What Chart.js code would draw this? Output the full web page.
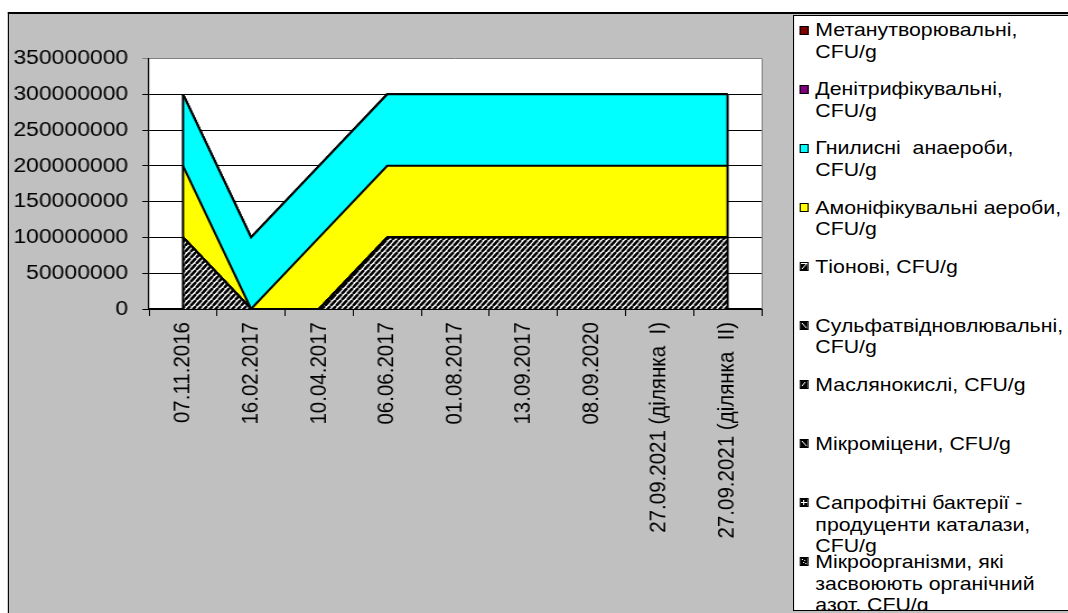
<!DOCTYPE html>
<html>
<head>
<meta charset="utf-8">
<script src="https://cdn.jsdelivr.net/npm/chart.js@4.4.1/dist/chart.umd.min.js"></script>
<style>
  html, body { margin: 0; padding: 0; background: #fff; overflow: hidden; width: 1068px; height: 613px; }
  #stage { position: absolute; left: 0; top: 0; width: 954px; height: 613px; transform: scaleX(1.12); transform-origin: 0 0; }
  #frame { position: absolute; left: 7px; top: 12px; right: -40px; bottom: -40px; background: #c0c0c0;
           border-top: 2px solid #000; border-left: 1.8px solid #000; }
  #chart { position: absolute; left: 0; top: 0; }
  #legend { position: absolute; left: 708px; top: 15px; width: 300px; height: 596px; box-sizing: border-box;
            background: #fff; border: 1px solid #000; overflow: hidden;
            font-family: "Liberation Sans", Arial, sans-serif; font-size: 19px; line-height: 21.5px; color: #000; }
  .item { position: absolute; left: 19px; white-space: pre; }
  .icon { position: absolute; left: -14px; top: 6.25px; width: 6px; height: 7px; border: 1px solid #000; }
</style>
</head>
<body>
<div id="stage">
  <div id="frame"></div>
  <canvas id="chart" width="954" height="613"></canvas>
  <div id="legend"></div>
</div>
<script>
// Sampling dates (category axis)
const categories = [
  '07.11.2016', '16.02.2017', '10.04.2017', '06.06.2017', '01.08.2017',
  '13.09.2017', '08.09.2020', '27.09.2021 (ділянка  І)', '27.09.2021 (ділянка  ІІ)'
];

// Y-axis tick values
const yTicks = [0, 50000000, 100000000, 150000000, 200000000, 250000000, 300000000, 350000000];

// Microbial groups, CFU/g (stacking order: bottom to top)
const organicNitrogen = [100000000, 0, 0, 100000000, 100000000, 100000000, 100000000, 100000000, 100000000];
const catalaseSaprophytes = [0, 0, 0, 0, 0, 0, 0, 0, 0];
const micromycetes = [0, 0, 0, 0, 0, 0, 0, 0, 0];
const butyric = [0, 0, 0, 0, 0, 0, 0, 0, 0];
const sulfateReducing = [0, 0, 0, 0, 0, 0, 0, 0, 0];
const thionic = [0, 0, 0, 0, 0, 0, 0, 0, 0];
const ammonifyingAerobes = [100000000, 0, 100000000, 100000000, 100000000, 100000000, 100000000, 100000000, 100000000];
const putrefactiveAnaerobes = [100000000, 100000000, 100000000, 100000000, 100000000, 100000000, 100000000, 100000000, 100000000];
const denitrifying = [0, 0, 0, 0, 0, 0, 0, 0, 0];
const methanogenic = [0, 0, 0, 0, 0, 0, 0, 0, 0];

const seriesNames = [
  'Мікроорганізми, які\nзасвоюють органічний\nазот, CFU/g',
  'Сапрофітні бактерії -\nпродуценти каталази,\nCFU/g',
  'Мікроміцени, CFU/g',
  'Маслянокислі, CFU/g',
  'Сульфатвідновлювальні,\nCFU/g',
  'Тіонові, CFU/g',
  'Амоніфікувальні аероби,\nCFU/g',
  'Гнилисні  анаероби,\nCFU/g',
  'Денітрифікувальні,\nCFU/g',
  'Метанутворювальні,\nCFU/g'
];
const seriesValues = [
  organicNitrogen, catalaseSaprophytes, micromycetes, butyric, sulfateReducing,
  thionic, ammonifyingAerobes, putrefactiveAnaerobes, denitrifying, methanogenic
];

const FONT = '"Liberation Sans", Arial, sans-serif';

// Black-and-white hatch tiles
function hatchTile(kind) {
  const w = 5, h = 6;
  const c = document.createElement('canvas');
  c.width = w; c.height = h;
  const g = c.getContext('2d');
  g.fillStyle = '#fff';
  g.fillRect(0, 0, w, h);
  g.strokeStyle = '#000';
  g.fillStyle = '#000';
  if (kind === 'up' || kind === 'down' || kind === 'upThick') {
    g.lineWidth = kind === 'upThick' ? 3 : 2.5;
    for (let k = -1; k <= 1; k++) {
      g.beginPath();
      if (kind === 'down') { g.moveTo(k * w, 0); g.lineTo(k * w + w, h); }
      else { g.moveTo(k * w, h); g.lineTo(k * w + w, 0); }
      g.stroke();
    }
  } else if (kind === 'grid') {
    g.fillRect(0, 0, w, 2); g.fillRect(0, 0, 2, h);
    g.fillRect(3, 3, 1, 2);
  } else if (kind === 'dots') {
    g.fillRect(0, 0, w, h);
    g.fillStyle = '#fff';
    g.fillRect(1, 1, 1, 1); g.fillRect(3, 4, 1, 1);
  }
  return c;
}

// Darker tiles for the small legend keys
function keyTile(kind) {
  const c = document.createElement('canvas');
  c.width = 6; c.height = 7;
  const g = c.getContext('2d');
  g.fillStyle = '#000';
  g.fillRect(0, 0, 6, 7);
  g.strokeStyle = '#fff';
  g.fillStyle = '#fff';
  g.lineWidth = 1;
  g.beginPath();
  if (kind === 'up') { g.moveTo(1, 6); g.lineTo(5, 1); g.stroke(); g.fillRect(0, 0, 6, 1); }
  else if (kind === 'down') { g.moveTo(1, 1); g.lineTo(5, 6); g.stroke(); }
  else if (kind === 'upThick') { g.moveTo(1, 5); g.lineTo(4, 1); g.stroke(); }
  else if (kind === 'grid') { g.fillRect(2, 1, 1, 5); g.fillRect(0, 3, 6, 1); }
  else if (kind === 'dots') { g.fillRect(1, 1, 1, 1); g.fillRect(3, 2, 1, 1); g.fillRect(2, 4, 1, 1); g.fillRect(4, 5, 1, 1); }
  return c;
}

const tiles = {
  up: hatchTile('up'), down: hatchTile('down'), upThick: hatchTile('upThick'),
  grid: hatchTile('grid'), dots: hatchTile('dots')
};

const ctx = document.getElementById('chart').getContext('2d');
const seriesFills = [
  ctx.createPattern(tiles.up, 'repeat'),
  ctx.createPattern(tiles.grid, 'repeat'),
  ctx.createPattern(tiles.down, 'repeat'),
  ctx.createPattern(tiles.upThick, 'repeat'),
  ctx.createPattern(tiles.down, 'repeat'),
  ctx.createPattern(tiles.up, 'repeat'),
  '#ffff00', '#00ffff', '#800080', '#800000'
];
const iconFills = [
  keyTile('dots'), keyTile('grid'), keyTile('down'), keyTile('upThick'), keyTile('down'), keyTile('up'),
  '#ffff00', '#00ffff', '#800080', '#800000'
];

const datasets = seriesValues.map((vals, i) => ({
  label: seriesNames[i],
  data: vals,
  backgroundColor: seriesFills[i],
  borderColor: '#000',
  borderWidth: 2,
  fill: i === 0 ? 'origin' : '-1',
  pointRadius: 0,
  tension: 0
}));

// Plot-area background and frame lines
const plotFrame = {
  id: 'plotFrame',
  beforeDraw(chart) {
    const { ctx, chartArea: a } = chart;
    ctx.save();
    ctx.fillStyle = '#fff';
    ctx.fillRect(a.left, a.top, a.right - a.left, a.bottom - a.top);
    ctx.restore();
  },
  afterDraw(chart) {
    const { ctx, chartArea: a } = chart;
    ctx.save();
    ctx.strokeStyle = '#808080';
    ctx.lineWidth = 1;
    ctx.beginPath();
    ctx.moveTo(a.right + 0.5, a.top);
    ctx.lineTo(a.right + 0.5, a.bottom);
    ctx.stroke();
    ctx.restore();
  }
};

// Closing vertical edges of the stacked areas at the first and last dates
const areaEdges = {
  id: 'areaEdges',
  afterDatasetsDraw(chart) {
    const { ctx, scales: { x, y } } = chart;
    const ds = chart.data.datasets;
    const n = chart.data.labels.length;
    ctx.save();
    ctx.strokeStyle = '#000';
    ctx.lineWidth = 2;
    [0, n - 1].forEach(idx => {
      const total = ds.reduce((s, d) => s + d.data[idx], 0);
      const px = x.getPixelForValue(idx);
      ctx.beginPath();
      ctx.moveTo(px, y.getPixelForValue(0));
      ctx.lineTo(px, y.getPixelForValue(total));
      ctx.stroke();
    });
    ctx.restore();
  }
};

const chart = new Chart(ctx, {
  type: 'line',
  data: { labels: categories, datasets },
  plugins: [plotFrame, areaEdges],
  options: {
    responsive: false,
    animation: false,
    devicePixelRatio: 1,
    layout: { padding: { top: 58.5, right: 274, left: 0, bottom: 0 } },
    plugins: { legend: { display: false }, tooltip: { enabled: false } },
    scales: {
      x: {
        type: 'category',
        offset: true,
        grid: { offset: true, drawOnChartArea: false, drawTicks: true, tickLength: 7, color: '#000', lineWidth: 1 },
        border: { display: true, color: '#000', width: 2 },
        ticks: {
          autoSkip: false, minRotation: 90, maxRotation: 90, padding: 6,
          color: '#000', font: { family: FONT, size: 20.5 }
        },
        afterFit(s) { s.height = 304; }
      },
      y: {
        stacked: true,
        min: yTicks[0],
        max: yTicks[yTicks.length - 1],
        afterBuildTicks(s) { s.ticks = yTicks.map(v => ({ value: v })); },
        grid: {
          color: c => (c.tick && c.tick.value === yTicks[yTicks.length - 1]) ? '#808080' : '#000',
          lineWidth: 1, drawTicks: true, tickLength: 6
        },
        border: { display: true, color: '#000', width: 1.2 },
        ticks: {
          padding: 12.5, color: '#000', font: { family: FONT, size: 20.5 },
          callback: v => String(v)
        },
        afterFit(s) { s.width = 133; }
      }
    }
  }
});

// Legend box (last series listed first)
const legend = document.getElementById('legend');
const order = seriesNames.map((_, i) => i).reverse();
order.forEach((idx, row) => {
  const item = document.createElement('div');
  item.className = 'item';
  item.style.top = (3.25 + row * 59.1) + 'px';
  const icon = document.createElement('span');
  icon.className = 'icon';
  const f = iconFills[idx];
  if (typeof f === 'string') icon.style.background = f;
  else icon.style.backgroundImage = 'url(' + f.toDataURL() + ')';
  item.appendChild(icon);
  item.appendChild(document.createTextNode(seriesNames[idx]));
  legend.appendChild(item);
});
</script>
</body>
</html>
